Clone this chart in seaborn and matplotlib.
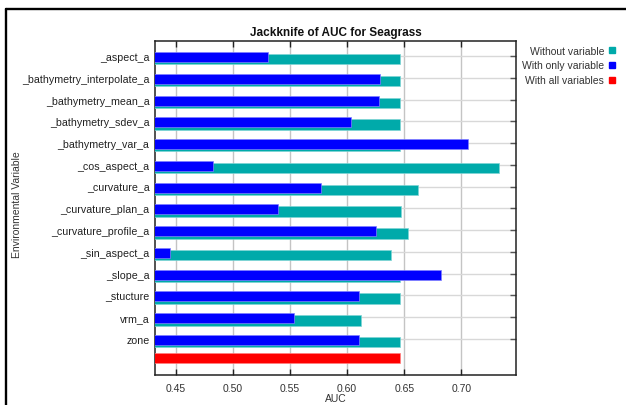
import matplotlib
matplotlib.use("Agg")
import matplotlib.pyplot as plt
from matplotlib.lines import Line2D
import seaborn as sns
import pandas as pd

# Jackknife test results (AUC) for the Seagrass model
variables = [
    "_aspect_a", "_bathymetry_interpolate_a", "_bathymetry_mean_a",
    "_bathymetry_sdev_a", "_bathymetry_var_a", "_cos_aspect_a",
    "_curvature_a", "_curvature_plan_a", "_curvature_profile_a",
    "_sin_aspect_a", "_slope_a", "_stucture", "vrm_a", "zone",
]
without_variable = [0.646, 0.6465, 0.6465, 0.6465, 0.6465, 0.733, 0.662,
                    0.6468, 0.653, 0.638, 0.646, 0.6465, 0.612, 0.6465]
with_only_variable = [0.531, 0.629, 0.628, 0.603, 0.706, 0.482, 0.577,
                      0.539, 0.625, 0.445, 0.682, 0.6105, 0.553, 0.6105]
with_all_variables = 0.6465
x_ticks = [0.45, 0.50, 0.55, 0.60, 0.65, 0.70]

TEAL = "#00AAAA"
BLUE = "#0000FF"
RED = "#FF0000"
FONT = ["Liberation Sans", "DejaVu Sans"]

sns.set_theme(style="white")
plt.rcParams["font.family"] = FONT

order = variables + [""]
df_without = pd.DataFrame({"var": variables, "auc": without_variable})
df_only = pd.DataFrame({"var": variables, "auc": with_only_variable})
df_all = pd.DataFrame({"var": [""], "auc": [with_all_variables]})

fig = plt.figure(figsize=(6.26, 4.06), dpi=100)
ax = fig.add_axes([0.2476, 0.0746, 0.5767, 0.822])

# draw each series on the same categorical axis, overlapping
sns.barplot(data=df_without, x="auc", y="var", order=order, orient="h",
            color=TEAL, width=0.48, saturation=1, edgecolor="#7fd4d4",
            linewidth=0.5, ax=ax, zorder=3)
n_teal = len(ax.patches)
sns.barplot(data=df_only, x="auc", y="var", order=order, orient="h",
            color=BLUE, width=0.46, saturation=1, edgecolor="#8080ff",
            linewidth=0.5, ax=ax, zorder=4)
n_blue = len(ax.patches)
sns.barplot(data=df_all, x="auc", y="var", order=order, orient="h",
            color=RED, width=0.46, saturation=1, edgecolor="#ff8080",
            linewidth=0.5, ax=ax, zorder=4)

# small vertical offsets give the overlapping bars their stacked look
for i, p in enumerate(ax.patches):
    if i < n_teal:
        p.set_y(p.get_y() + 0.15)
        p.set_zorder(3)
    elif i < n_blue:
        p.set_y(p.get_y() + 0.05)
        p.set_zorder(4)
    else:
        p.set_y(p.get_y() - 0.1)
        p.set_zorder(4)

ax.set_xlim(0.4316, 0.748)
ax.set_ylim(14.65, -0.69)
ax.set_xticks(x_ticks)
ax.set_xticklabels([f"{t:.2f}" for t in x_ticks], fontsize=7.5, color="#333333")
ax.set_yticks(range(len(variables)))
ax.set_yticklabels(variables, fontsize=7.7, color="#222222")

ax.tick_params(axis="x", direction="in", top=True, bottom=True, length=4,
               width=1, color="#222222", pad=6)
ax.tick_params(axis="y", direction="in", left=False, right=True, length=4,
               width=1, color="#555555", pad=4)

ax.grid(axis="x", color="#c4c4c4", linewidth=1.0, zorder=1)
ax.grid(axis="y", color="#d8d8d8", linewidth=1.0, zorder=1)
ax.set_axisbelow(True)
for s in ax.spines.values():
    s.set_visible(True)
    s.set_color("#222222")
    s.set_linewidth(1.1)

ax.set_title("Jackknife of AUC for Seagrass", fontsize=8.5, fontweight="bold",
             color="#111111", pad=4)
ax.set_xlabel("AUC", fontsize=7.5, color="#333333", labelpad=0)
ax.set_ylabel("")
fig.text(0.027, 0.495, "Environmental Variable", rotation=90, fontsize=7.5,
         color="#333333", ha="center", va="center")

handles = [
    Line2D([], [], linestyle="none", marker="s", markersize=4,
           markerfacecolor=c, markeredgecolor=c)
    for c in (TEAL, BLUE, RED)
]
fig.legend(handles, ["Without variable", "With only variable", "With all variables"],
           loc="upper right", bbox_to_anchor=(0.99, 0.895), frameon=False,
           markerfirst=False, fontsize=7.5, handlelength=0.6,
           handletextpad=0.5, labelspacing=0.45, labelcolor="#333333",
           borderaxespad=0)

# outer frame lines along the top and left edges
fig.add_artist(Line2D([0.0096, 1.0], [0.9766, 0.9766], color="black",
                      linewidth=1.7, transform=fig.transFigure))
fig.add_artist(Line2D([0.0096, 0.0096], [0.0, 0.9766], color="black",
                      linewidth=1.7, transform=fig.transFigure))

fig.savefig("out.png", dpi=100, facecolor="white")
